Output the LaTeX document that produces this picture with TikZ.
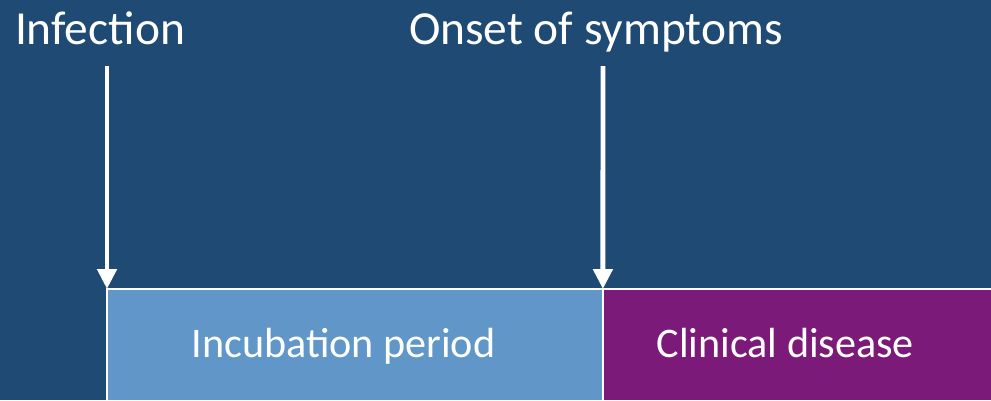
\documentclass[tikz,border=0pt]{standalone}
\usepackage{fontspec}
\setmainfont{Carlito}
\usepackage{xcolor}
\usetikzlibrary{positioning,arrows.meta}

\definecolor{slideblue}{RGB}{31,74,115}
\definecolor{incubblue}{RGB}{96,150,200}
\definecolor{clinpurple}{RGB}{123,26,120}

\tikzset{
  phasebox/.style={draw=white, line width=1.2pt, outer sep=0pt, inner sep=0pt,
    anchor=north west, minimum height=2.24cm},
  phaselabel/.style={text=white, font=\fontsize{24}{28}\selectfont, anchor=base},
  eventlabel/.style={text=white, font=\fontsize{27}{32}\selectfont, anchor=base},
  eventarrow/.style={draw=white, line width=2.8pt, -{Triangle[length=0.4cm,width=0.38cm]}},
}

\begin{document}
\begin{tikzpicture}[
  x=0.02cm, y=-0.02cm,
]
  % --- slide background ---
  \fill[slideblue] (0,0) rectangle (991,400);
  \clip (0,0) rectangle (991,400);
  \useasboundingbox (0,0) rectangle (991,400);

  % --- phases ---
  \node[phasebox, fill=incubblue, minimum width=9.92cm] (incub) at (107,289) {};
  \node[phasebox, fill=clinpurple, minimum width=7.9cm] (clin) at (incub.north east) {};

  \node[phaselabel] (incubText) at ([xshift=-0.23cm,yshift=-0.26cm]incub.center) {Incubation period};
  \node[phaselabel] (clinText) at ([xshift=-0.3cm,yshift=-0.26cm]clin.center) {Clinical disease};

  % --- events ---
  \node[eventlabel] (infection) at (100,44) {Infection};
  \node[eventlabel] (onset) at (596,44) {Onset of symptoms};

  \coordinate (infTail) at (107,66);
  \coordinate (onsetTail) at (603,66);

  \draw[eventarrow] (infTail) -- (incub.north west);
  \draw[eventarrow] (onsetTail) -- (incub.north east);
\end{tikzpicture}
\end{document}
